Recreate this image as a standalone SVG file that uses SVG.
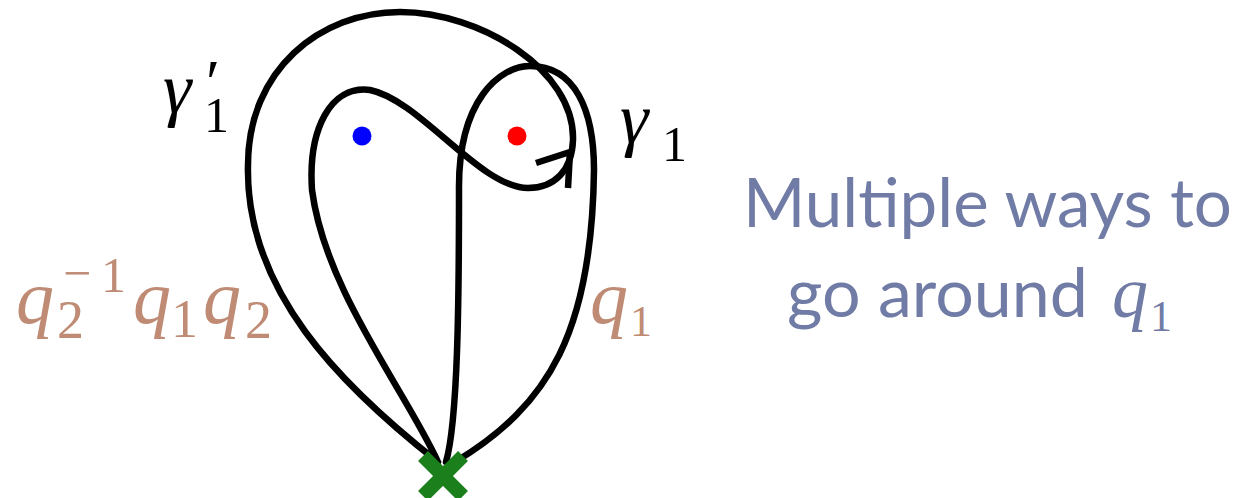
<svg xmlns="http://www.w3.org/2000/svg" width="1246" height="498" viewBox="0 0 1246 498">
<style>
.curve{fill:none;stroke:#000;stroke-width:6.5;stroke-linecap:round;stroke-linejoin:round}
.arrow{fill:none;stroke:#000;stroke-width:6.5;stroke-linecap:butt;stroke-linejoin:miter}
.mi{font-family:"Liberation Serif",serif;font-style:italic}
.mr{font-family:"Liberation Serif",serif}
.brown{fill:#BF8B74}
.slate{fill:#717CA6}
.sans{font-family:Lato,"Open Sans",sans-serif}
</style>
<rect width="1246" height="498" fill="#fff"/>
<g id="connectors">
<path id="gamma1prime" class="curve" d="M438,462 C340,385 245,290 248,165 C248,70 320,12 400,12 C480,12 575,70 573,140 C572,170 555,188 528,188 C480,188 420,100 370,90 C330,85 308,130 312,190 C325,290 405,390 438,462"/>
<path id="q1loop" class="curve" d="M446,462 C458,420 459,300 459,190 C458,100 500,66 530,66 C575,66 594,110 594,170 C592,330 550,405 455,462"/>
<polyline id="arrowhead" class="arrow" points="536,163 570,152 568,188"/>
</g>
<g id="dot-blue"><circle cx="362" cy="136" r="9.5" fill="#0000FF"/></g>
<g id="dot-red"><circle cx="517" cy="136" r="9.5" fill="#FF0000"/></g>
<g id="basepoint">
<line x1="423" y1="456" x2="463" y2="496" stroke="#1B7F1B" stroke-width="14"/>
<line x1="423" y1="496" x2="463" y2="456" stroke="#1B7F1B" stroke-width="14"/>
</g>
<g id="label-gamma1prime">
<text class="mi" x="163" y="113" font-size="72">γ</text>
<text class="mr" x="204" y="132" font-size="50">1</text>
<text class="mr" x="206" y="104" font-size="64">′</text>
</g>
<g id="label-gamma1">
<text class="mi" x="620" y="143" font-size="72">γ</text>
<text class="mr" x="662" y="161" font-size="50">1</text>
</g>
<g id="label-conj" class="brown">
<text class="mi" x="16" y="323" font-size="76">q</text>
<text class="mr" x="57" y="338" font-size="54">2</text>
<text class="mr" x="63" y="290" font-size="50">−</text>
<text class="mr" x="101" y="292" font-size="50">1</text>
<text class="mi" x="133" y="323" font-size="76">q</text>
<text class="mr" x="171" y="337" font-size="54">1</text>
<text class="mi" x="203" y="323" font-size="76">q</text>
<text class="mr" x="245" y="338" font-size="54">2</text>
</g>
<g id="label-q1" class="brown">
<text class="mi" x="590" y="323" font-size="76">q</text>
<text class="mr" x="630" y="336" font-size="44">1</text>
</g>
<g id="caption" class="slate">
<text class="sans" x="743" y="227" font-size="68" textLength="489" lengthAdjust="spacingAndGlyphs">Multiple ways to</text>
<text class="sans" x="787" y="317" font-size="68" textLength="301" lengthAdjust="spacingAndGlyphs">go around</text>
<text class="mi" x="1112" y="317" font-size="72">q</text>
<text class="mr" x="1150" y="331" font-size="44">1</text>
</g>
</svg>
